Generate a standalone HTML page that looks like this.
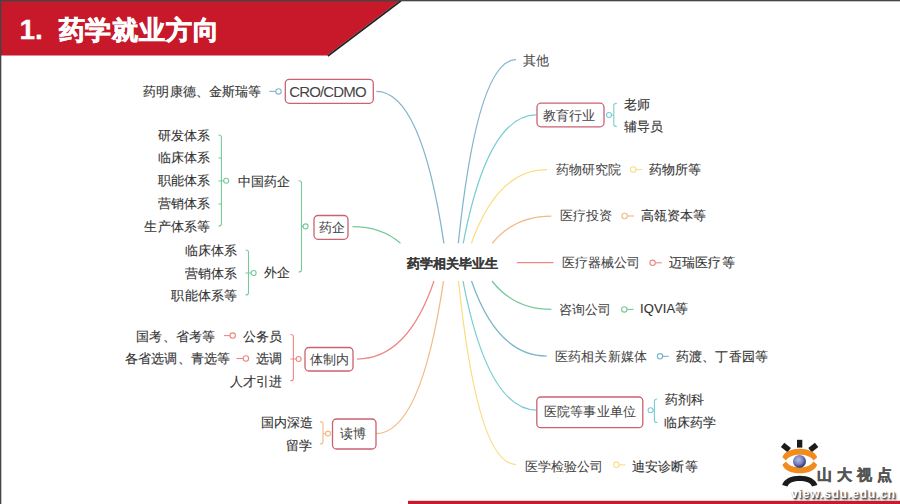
<!DOCTYPE html>
<html><head><meta charset="utf-8"><style>
html,body{margin:0;padding:0;background:#fff;}
body{width:900px;height:504px;position:relative;overflow:hidden;font-family:"Liberation Sans",sans-serif;}
.t{position:absolute;white-space:nowrap;line-height:20px;color:#333;-webkit-text-stroke:0.12px currentColor;}
svg{position:absolute;left:0;top:0;}
</style></head><body>
<svg width="900" height="504" viewBox="0 0 900 504">
<rect x="0" y="0" width="900" height="504" fill="#fff"/>
<polygon points="0,0 400.5,0 327,55.6 0,55.6" fill="#c8192b"/>
<path d="M401,0.8 L327.8,56" stroke="#222" stroke-width="1.7" fill="none"/>
<rect x="0" y="0" width="900" height="1.3" fill="#444"/>
<rect x="0" y="0" width="1.3" height="504" fill="#444"/>
<rect x="408" y="500.8" width="492" height="3.2" fill="#c91a2b"/>
<path d="M376.3,91.4 Q421.35,91.40 443.9,243.3" fill="none" stroke="#82b5ca" stroke-width="1.25"/><path d="M352.4,226.6 Q381.79,226.60 400.5,243.3" fill="none" stroke="#76ca9a" stroke-width="1.25"/><path d="M357,359 Q407.48,359.00 434,281" fill="none" stroke="#ed8781" stroke-width="1.25"/><path d="M376,433.5 Q420.98,433.50 443.5,281" fill="none" stroke="#f2b983" stroke-width="1.25"/><path d="M516.1,59.6 Q477.45,59.60 458.3,243.3" fill="none" stroke="#82b5ca" stroke-width="1.25"/><path d="M536.3,114.9 Q487.74,114.90 463.2,243.3" fill="none" stroke="#78cdd3" stroke-width="1.25"/><path d="M547,169.6 Q497.50,169.60 471.4,243.3" fill="none" stroke="#f8de82" stroke-width="1.25"/><path d="M551.3,216 Q514.18,216.00 492.2,243.3" fill="none" stroke="#f2b983" stroke-width="1.25"/><path d="M516.8,262.5 H553.5" fill="none" stroke="#ed8781" stroke-width="1.25"/><path d="M551.4,309.4 Q514.05,309.40 492,281" fill="none" stroke="#76ca9a" stroke-width="1.25"/><path d="M546.6,356 Q497.42,356.00 471.5,281" fill="none" stroke="#78b5cc" stroke-width="1.25"/><path d="M537,410.2 Q487.85,410.20 463,281" fill="none" stroke="#78cdd3" stroke-width="1.25"/><path d="M516,464.5 Q477.57,464.50 458.5,281" fill="none" stroke="#f8de82" stroke-width="1.25"/><rect x="285.3" y="79.3" width="88.0" height="24.0" rx="4" ry="4" fill="#fff" stroke="#cc6170" stroke-width="1.3"/><rect x="314" y="215.5" width="34" height="23.80000000000001" rx="4" ry="4" fill="#fff" stroke="#cc6170" stroke-width="1.3"/><rect x="305" y="347.5" width="48" height="23.5" rx="4" ry="4" fill="#fff" stroke="#cc6170" stroke-width="1.3"/><rect x="332.5" y="419" width="43.5" height="30" rx="4" ry="4" fill="#fff" stroke="#cc6170" stroke-width="1.3"/><rect x="537" y="103.2" width="67" height="23.599999999999994" rx="4" ry="4" fill="#fff" stroke="#cc6170" stroke-width="1.3"/><rect x="536.8" y="397" width="106.0" height="30.69999999999999" rx="4" ry="4" fill="#fff" stroke="#cc6170" stroke-width="1.3"/><path d="M269.3,91.4 H275.8" fill="none" stroke="#82b5ca" stroke-width="1.1"/><circle cx="278.5" cy="91.4" r="2.7" fill="#fff" stroke="#82b5ca" stroke-width="1.1"/><path d="M218.4,135 Q221.4,135 221.4,137 V224 Q221.4,226 218.4,226 M218.4,158 H221.4 M218.4,181 H221.4 M218.4,204 H221.4 M221.4,180.7 H226.2" fill="none" stroke="#76ca9a" stroke-width="1.1"/><circle cx="226.2" cy="180.7" r="2.5" fill="#fff" stroke="#76ca9a" stroke-width="1.1"/><path d="M298.5,180.7 Q301.5,180.7 301.5,182.7 V270 Q301.5,272 298.5,272 M301.5,226.4 H305.6" fill="none" stroke="#76ca9a" stroke-width="1.1"/><circle cx="305.6" cy="226.4" r="2.5" fill="#fff" stroke="#76ca9a" stroke-width="1.1"/><path d="M245.5,250 Q248.5,250 248.5,252 V293 Q248.5,295 245.5,295 M245.5,273 H248.5 M248.5,273 H253.6" fill="none" stroke="#76ca9a" stroke-width="1.1"/><circle cx="253.6" cy="273" r="2.5" fill="#fff" stroke="#76ca9a" stroke-width="1.1"/><path d="M224,335.6 H230.0" fill="none" stroke="#ed8781" stroke-width="1.1"/><circle cx="232.7" cy="335.6" r="2.7" fill="#fff" stroke="#ed8781" stroke-width="1.1"/><path d="M236.5,358.5 H243.20000000000002" fill="none" stroke="#ed8781" stroke-width="1.1"/><circle cx="245.9" cy="358.5" r="2.7" fill="#fff" stroke="#ed8781" stroke-width="1.1"/><path d="M290.4,334.5 Q293.4,334.5 293.4,336.5 V378.7 Q293.4,380.7 290.4,380.7 M290.4,359 H293.4 M293.4,359 H298.6" fill="none" stroke="#ed8781" stroke-width="1.1"/><circle cx="298.6" cy="359" r="2.5" fill="#fff" stroke="#ed8781" stroke-width="1.1"/><path d="M320,421.6 Q323,421.6 323,423.6 V442 Q323,444 320,444 M323,433.6 H328" fill="none" stroke="#f2b983" stroke-width="1.1"/><circle cx="328" cy="433.6" r="2.5" fill="#fff" stroke="#f2b983" stroke-width="1.1"/><path d="M616.8,103.4 Q613.8,103.4 613.8,105.4 V124.6 Q613.8,126.6 616.8,126.6 M609,115 H613.8" fill="none" stroke="#78cdd3" stroke-width="1.1"/><circle cx="609" cy="115" r="2.5" fill="#fff" stroke="#78cdd3" stroke-width="1.1"/><path d="M635.9000000000001,169.5 H642.4" fill="none" stroke="#f8de82" stroke-width="1.1"/><circle cx="633.2" cy="169.5" r="2.7" fill="#fff" stroke="#f8de82" stroke-width="1.1"/><path d="M627.3000000000001,216 H633.9" fill="none" stroke="#f2b983" stroke-width="1.1"/><circle cx="624.6" cy="216" r="2.7" fill="#fff" stroke="#f2b983" stroke-width="1.1"/><path d="M655.3000000000001,262.8 H661.8" fill="none" stroke="#ed8781" stroke-width="1.1"/><circle cx="652.6" cy="262.8" r="2.7" fill="#fff" stroke="#ed8781" stroke-width="1.1"/><path d="M627.0,309.4 H633.5" fill="none" stroke="#76ca9a" stroke-width="1.1"/><circle cx="624.3" cy="309.4" r="2.7" fill="#fff" stroke="#76ca9a" stroke-width="1.1"/><path d="M662.7,356.3 H668.8" fill="none" stroke="#78b5cc" stroke-width="1.1"/><circle cx="660" cy="356.3" r="2.7" fill="#fff" stroke="#78b5cc" stroke-width="1.1"/><path d="M657.4,399 Q654.4,399 654.4,401 V420.5 Q654.4,422.5 657.4,422.5 M650.6,410.3 H654.4" fill="none" stroke="#78cdd3" stroke-width="1.1"/><circle cx="650.6" cy="410.3" r="2.5" fill="#fff" stroke="#78cdd3" stroke-width="1.1"/><path d="M619.1,464.8 H625.2" fill="none" stroke="#f8de82" stroke-width="1.1"/><circle cx="616.4" cy="464.8" r="2.7" fill="#fff" stroke="#f8de82" stroke-width="1.1"/>

<defs><radialGradient id="iris" cx="0.42" cy="0.38" r="0.62"><stop offset="0" stop-color="#b4bce6"/><stop offset="0.55" stop-color="#7a84c0"/><stop offset="1" stop-color="#27306a"/></radialGradient></defs>
<rect x="797" y="439.8" width="5.3" height="7.8" fill="#1b1b1b"/>
<path d="M782.6,444.8 L789.2,450.2" stroke="#1b1b1b" stroke-width="5.4"/>
<path d="M816.6,444.8 L810,450.2" stroke="#1b1b1b" stroke-width="5.4"/>
<path d="M782.4,457.3 C786,445.8 813.5,445.8 817.2,457.3 L813.5,460.6 C809.5,452.8 790,452.8 786,460.6 Z" fill="#f28b1c"/>
<path d="M782.4,464.7 C786,476.2 813.5,476.2 817.2,464.7 L813.5,461.4 C809.5,469.2 790,469.2 786,461.4 Z" fill="#f28b1c"/>
<circle cx="799.5" cy="461.4" r="6.4" fill="url(#iris)"/>
<path d="M782.2,485 C785,472.5 814.5,472.5 817.4,485 L812,486.5 C810,479.3 789.5,479.3 787.5,486.5 Z" fill="#1b1b1b"/>
</svg>
<div class="t" style="left:19.5px;top:10px;line-height:40px;font-size:28px;font-weight:bold;color:#fff;-webkit-text-stroke:0.3px #fff">1.</div>
<div class="t" style="left:58.5px;top:10px;line-height:40px;font-size:26.4px;font-weight:bold;color:#fff;letter-spacing:0.9px;-webkit-text-stroke:0.7px #fff">药学就业方向</div>
<div class="t" style="right:638.35px;top:82.00px;font-size:13px;font-weight:normal;letter-spacing:0.15px">药明康德、金斯瑞等</div>
<div class="t" style="left:289.20px;top:81.50px;font-size:15px;font-weight:normal;letter-spacing:-0.85px;color:#444;-webkit-text-stroke:0">CRO/CDMO</div>
<div class="t" style="right:689.85px;top:125.50px;font-size:13px;font-weight:normal;letter-spacing:0.15px">研发体系</div>
<div class="t" style="right:689.85px;top:148.00px;font-size:13px;font-weight:normal;letter-spacing:0.15px">临床体系</div>
<div class="t" style="right:689.85px;top:171.00px;font-size:13px;font-weight:normal;letter-spacing:0.15px">职能体系</div>
<div class="t" style="right:689.85px;top:194.00px;font-size:13px;font-weight:normal;letter-spacing:0.15px">营销体系</div>
<div class="t" style="right:689.85px;top:217.00px;font-size:13px;font-weight:normal;letter-spacing:0.15px">生产体系等</div>
<div class="t" style="left:238.00px;top:172.00px;font-size:13px;font-weight:normal;letter-spacing:0.15px">中国药企</div>
<div class="t" style="left:318.50px;top:217.50px;font-size:13px;font-weight:normal;letter-spacing:0.15px;color:#444;-webkit-text-stroke:0.05px #444">药企</div>
<div class="t" style="right:662.85px;top:241.00px;font-size:13px;font-weight:normal;letter-spacing:0.15px">临床体系</div>
<div class="t" style="right:662.85px;top:263.50px;font-size:13px;font-weight:normal;letter-spacing:0.15px">营销体系</div>
<div class="t" style="right:662.85px;top:285.50px;font-size:13px;font-weight:normal;letter-spacing:0.15px">职能体系等</div>
<div class="t" style="left:264.00px;top:263.00px;font-size:13px;font-weight:normal;letter-spacing:0.15px">外企</div>
<div class="t" style="right:684.85px;top:327.00px;font-size:13px;font-weight:normal;letter-spacing:0.15px">国考、省考等</div>
<div class="t" style="left:243.00px;top:327.00px;font-size:13px;font-weight:normal;letter-spacing:0.15px">公务员</div>
<div class="t" style="right:669.85px;top:349.00px;font-size:13px;font-weight:normal;letter-spacing:0.15px">各省选调、青选等</div>
<div class="t" style="left:256.00px;top:349.00px;font-size:13px;font-weight:normal;letter-spacing:0.15px">选调</div>
<div class="t" style="right:617.85px;top:372.00px;font-size:13px;font-weight:normal;letter-spacing:0.15px">人才引进</div>
<div class="t" style="left:309.50px;top:349.50px;font-size:13px;font-weight:normal;letter-spacing:0.15px;color:#444;-webkit-text-stroke:0.05px #444">体制内</div>
<div class="t" style="right:586.85px;top:413.00px;font-size:13px;font-weight:normal;letter-spacing:0.15px">国内深造</div>
<div class="t" style="right:587.85px;top:436.00px;font-size:13px;font-weight:normal;letter-spacing:0.15px">留学</div>
<div class="t" style="left:340.00px;top:424.00px;font-size:13px;font-weight:normal;letter-spacing:0.15px;color:#444;-webkit-text-stroke:0.05px #444">读博</div>
<div class="t" style="left:406.60px;top:253.50px;font-size:13px;font-weight:bold;letter-spacing:0.15px;-webkit-text-stroke:0.15px #3a3a3a;color:#3a3a3a">药学相关毕业生</div>
<div class="t" style="left:523.00px;top:51.00px;font-size:13px;font-weight:normal;letter-spacing:0.15px;color:#444;-webkit-text-stroke:0.05px #444">其他</div>
<div class="t" style="left:543.00px;top:106.00px;font-size:13px;font-weight:normal;letter-spacing:0.15px;color:#444;-webkit-text-stroke:0.05px #444">教育行业</div>
<div class="t" style="left:624.00px;top:95.00px;font-size:13px;font-weight:normal;letter-spacing:0.15px">老师</div>
<div class="t" style="left:624.00px;top:117.00px;font-size:13px;font-weight:normal;letter-spacing:0.15px">辅导员</div>
<div class="t" style="left:555.50px;top:160.00px;font-size:13px;font-weight:normal;letter-spacing:0.15px;color:#444;-webkit-text-stroke:0.05px #444">药物研究院</div>
<div class="t" style="left:649.00px;top:160.00px;font-size:13px;font-weight:normal;letter-spacing:0.15px">药物所等</div>
<div class="t" style="left:559.50px;top:206.00px;font-size:13px;font-weight:normal;letter-spacing:0.15px;color:#444;-webkit-text-stroke:0.05px #444">医疗投资</div>
<div class="t" style="left:640.50px;top:206.00px;font-size:13px;font-weight:normal;letter-spacing:0.15px">高瓴资本等</div>
<div class="t" style="left:561.50px;top:253.00px;font-size:13px;font-weight:normal;letter-spacing:0.15px;color:#444;-webkit-text-stroke:0.05px #444">医疗器械公司</div>
<div class="t" style="left:669.00px;top:253.00px;font-size:13px;font-weight:normal;letter-spacing:0.15px">迈瑞医疗等</div>
<div class="t" style="left:559.00px;top:299.50px;font-size:13px;font-weight:normal;letter-spacing:0.15px;color:#444;-webkit-text-stroke:0.05px #444">咨询公司</div>
<div class="t" style="left:640.00px;top:299.00px;font-size:13px;font-weight:normal;letter-spacing:0.15px">IQVIA等</div>
<div class="t" style="left:555.00px;top:347.00px;font-size:13px;font-weight:normal;letter-spacing:0.15px;color:#444;-webkit-text-stroke:0.05px #444">医药相关新媒体</div>
<div class="t" style="left:676.00px;top:347.00px;font-size:13px;font-weight:normal;letter-spacing:0.15px">药渡、丁香园等</div>
<div class="t" style="left:544.00px;top:402.00px;font-size:13px;font-weight:normal;letter-spacing:0.15px;color:#444;-webkit-text-stroke:0.05px #444">医院等事业单位</div>
<div class="t" style="left:664.50px;top:390.00px;font-size:13px;font-weight:normal;letter-spacing:0.15px">药剂科</div>
<div class="t" style="left:663.50px;top:413.00px;font-size:13px;font-weight:normal;letter-spacing:0.15px">临床药学</div>
<div class="t" style="left:524.50px;top:456.50px;font-size:13px;font-weight:normal;letter-spacing:0.15px;color:#444;-webkit-text-stroke:0.05px #444">医学检验公司</div>
<div class="t" style="left:632.00px;top:456.50px;font-size:13px;font-weight:normal;letter-spacing:0.15px">迪安诊断等</div>
<div style="position:absolute;left:816.5px;top:464.5px;font:bold 15px 'Liberation Sans',sans-serif;line-height:20px;color:#555;letter-spacing:5.1px;white-space:nowrap;-webkit-text-stroke:0.5px #555">山大视点</div>
<div style="position:absolute;left:791px;top:487px;font:bold 12px 'Liberation Sans',sans-serif;line-height:14px;color:#fff;letter-spacing:0.85px;white-space:nowrap;text-shadow:1px 1px 1px #444,1.5px 1.5px 2px #666">view.sdu.edu.cn</div>
</body></html>
